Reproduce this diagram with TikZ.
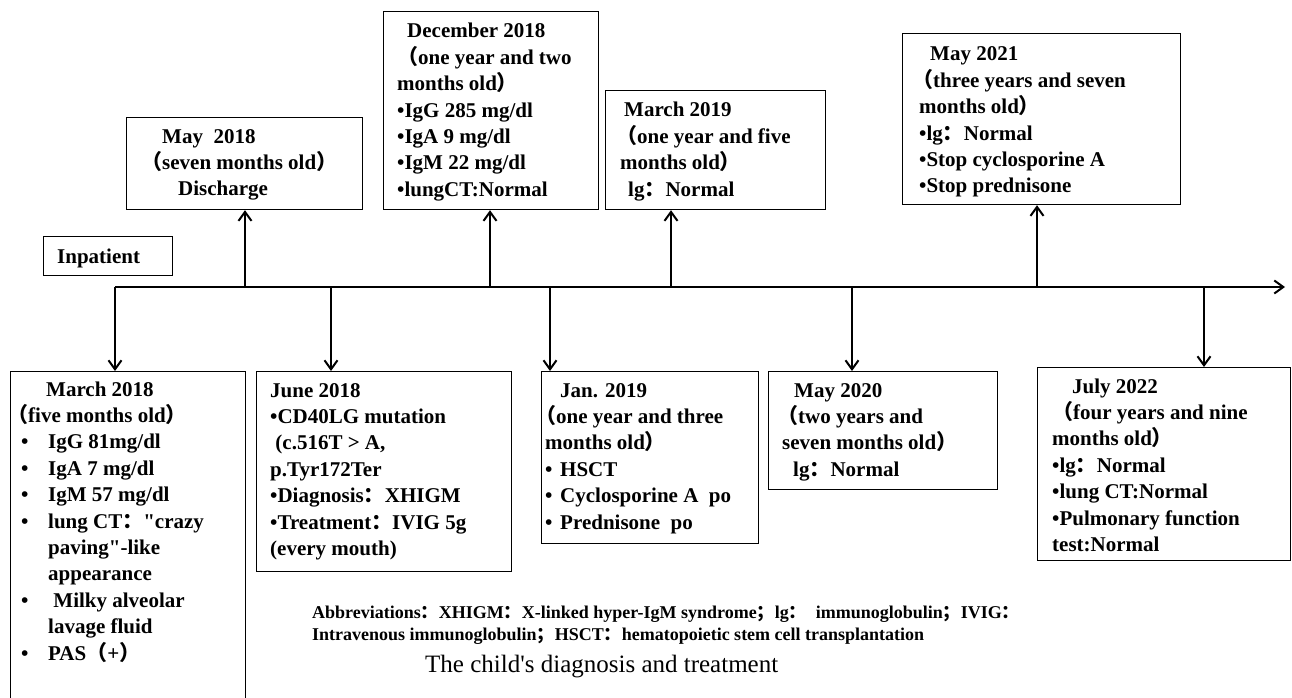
\documentclass[tikz,border=0pt]{standalone}
\usepackage{fontspec}
\usetikzlibrary{arrows.meta}
\newfontfamily\tnr{Liberation Serif}
\newfontfamily\cjk{Noto Sans CJK SC}
% full-width punctuation
\newcommand\fwl{{\cjk （}}
\newcommand\fwr{{\cjk ）}}
\newcommand\fwc{{\cjk ：}}
\newcommand\fws{{\cjk ；}}
\newcommand\bul{\makebox[27pt][l]{•}}
\newcommand\bulj{\makebox[15pt][l]{•}}
\newcommand\evlines[1]{\begin{tabular}[t]{@{}l@{}}#1\end{tabular}}

\begin{document}
\begin{tikzpicture}
[x=1pt,y=-1pt,%
  evbox/.style={draw,line width=1.2pt,inner sep=0pt,anchor=north west},%
  evtext/.style={inner sep=0pt,anchor=base west,font=\tnr\bfseries\fontsize{21}{26.4}\selectfont},%
  arr/.style={line width=2pt,-{Straight Barb[length=9pt,width=13pt]}}]
\useasboundingbox (0,0) rectangle (1292,698);
\clip (0,0) rectangle (1292,698);

% timeline
\coordinate (t0) at (115,287);
\coordinate (t1) at (1285,287);
\draw[arr] (t0) -- (t1);

% boxes above
\node[evbox,minimum width=129,minimum height=39] (inpat) at (43,236) {};
\node[evbox,minimum width=236,minimum height=92] (may18) at (126,117) {};
\node[evbox,minimum width=215,minimum height=198] (dec18) at (383,11) {};
\node[evbox,minimum width=220,minimum height=119] (mar19) at (605,90) {};
\node[evbox,minimum width=278,minimum height=171] (may21) at (902,33) {};
% boxes below
\node[evbox,minimum width=235,minimum height=340] (mar18) at (10,371) {};
\node[evbox,minimum width=255,minimum height=200] (jun18) at (256,371) {};
\node[evbox,minimum width=217,minimum height=172] (jan19) at (541,371) {};
\node[evbox,minimum width=229,minimum height=118] (may20) at (768,371) {};
\node[evbox,minimum width=253,minimum height=193] (jul22) at (1037,367) {};

% texts
\node[evtext] (inpatt) at (57,263) {Inpatient};
\node[evtext] (may18t) at (141,143) {\evlines{%
  \hspace{21pt}May\ \ 2018\\
  \fwl seven months old\fwr\\
  \hspace{37pt}Discharge}};
\node[evtext] (dec18t) at (397,38) {\evlines{%
  \hspace{10pt}December 2018\\
  \fwl one year and two\\
  months old\fwr\\
  •IgG 285 mg/dl\\
  •IgA 9 mg/dl\\
  •IgM 22 mg/dl\\
  •lungCT:Normal}};
\node[evtext] (mar19t) at (620,117) {\evlines{%
  \hspace{4pt}March 2019\\
  \hspace{-4pt}\fwl one year and five\\
  months old\fwr\\
  \hspace{8pt}lg\fwc Normal}};
\node[evtext] (may21t) at (919,61) {\evlines{%
  \hspace{11pt}May 2021\\
  \hspace{-7pt}\fwl three years and seven\\
  months old\fwr\\
  •lg\fwc Normal\\
  •Stop cyclosporine A\\
  •Stop prednisone}};
\node[evtext] (mar18t) at (11,396) {\evlines{%
  \hspace{35pt}March 2018\\
  \hspace{-4pt}\fwl five months old\fwr\\
  \hspace{10pt}\bul IgG 81mg/dl\\
  \hspace{10pt}\bul IgA 7 mg/dl\\
  \hspace{10pt}\bul IgM 57 mg/dl\\
  \hspace{10pt}\bul lung CT\fwc "crazy\\
  \hspace{37pt}paving"-like\\
  \hspace{37pt}appearance\\
  \hspace{10pt}\bul\ Milky alveolar\\
  \hspace{37pt}lavage fluid\\
  \hspace{10pt}\bul PAS\fwl+\fwr}};
\node[evtext] (jun18t) at (270,397) {\evlines{%
  June 2018\\
  •CD40LG mutation\\
  \ (c.516T > A,\\
  p.Tyr172Ter\\
  •Diagnosis\fwc XHIGM\\
  •Treatment\fwc IVIG 5g\\
  (every mouth)}};
\node[evtext] (jan19t) at (545,397) {\evlines{%
  \hspace{15pt}Jan. 2019\\
  \hspace{-10pt}\fwl one year and three\\
  months old\fwr\\
  \bulj HSCT\\
  \bulj Cyclosporine A\ \ po\\
  \bulj Prednisone\ \ po}};
\node[evtext] (may20t) at (782,397) {\evlines{%
  \hspace{12pt}May 2020\\
  \hspace{-5pt}\fwl two years and\\
  seven months old\fwr\\
  \hspace{11pt}lg\fwc Normal}};
\node[evtext] (jul22t) at (1052,393) {\evlines{%
  \hspace{20pt}July 2022\\
  \fwl four years and nine\\
  months old\fwr\\
  •lg\fwc Normal\\
  •lung CT:Normal\\
  •Pulmonary function\\
  test:Normal}};

% arrows up
\coordinate (u1) at (245,287);
\coordinate (u2) at (490,287);
\coordinate (u3) at (671,287);
\coordinate (u4) at (1037,287);
\draw[arr] (u1) -- (u1 |- may18.south);
\draw[arr] (u2) -- (u2 |- dec18.south);
\draw[arr] (u3) -- (u3 |- mar19.south);
\draw[arr] (u4) -- (u4 |- may21.south);
% arrows down
\coordinate (d2) at (331,287);
\coordinate (d3) at (550,287);
\coordinate (d4) at (852,287);
\coordinate (d5) at (1204,287);
\draw[arr] (t0) -- (t0 |- mar18.north);
\draw[arr] (d2) -- (d2 |- jun18.north);
\draw[arr] (d3) -- (d3 |- jan19.north);
\draw[arr] (d4) -- (d4 |- may20.north);
\draw[arr] (d5) -- (d5 |- jul22.north);

% notes
\node[inner sep=0pt,anchor=base west,font=\tnr\bfseries\fontsize{18}{22.5}\selectfont] (abbr) at (312,618) {\evlines{%
  Abbreviations\fwc XHIGM\fwc X-linked hyper-IgM syndrome\fws lg\fwc\ \ immunoglobulin\fws IVIG\fwc\\
  Intravenous immunoglobulin\fws HSCT\fwc hematopoietic stem cell transplantation}};
\node[inner sep=0pt,anchor=base west,font=\tnr\fontsize{25}{30}\selectfont] (capt) at (425,672) {The child's diagnosis and treatment};
\end{tikzpicture}
\end{document}
